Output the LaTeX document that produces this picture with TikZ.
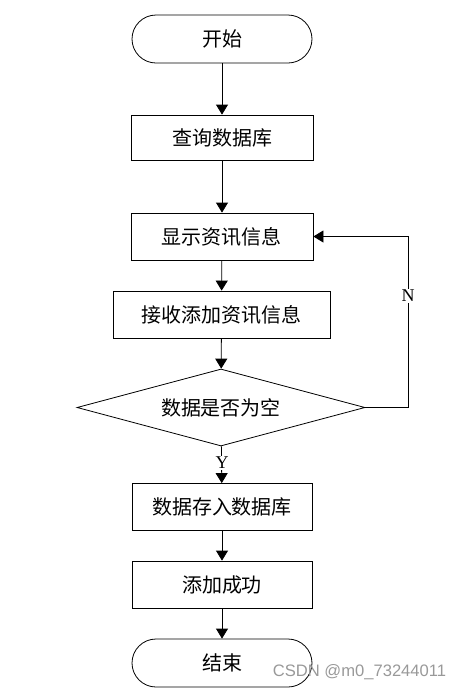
\documentclass[tikz,border=0pt]{standalone}
\usepackage{fontspec}
\setmainfont{Liberation Serif}
\newfontfamily\cjk{Noto Sans CJK SC}
\newfontfamily\wmfont{Liberation Sans}
\usetikzlibrary{shapes.geometric,arrows.meta}
\begin{document}
\begin{tikzpicture}[x=0.5pt,y=-0.5pt,
	term/.style={draw,rounded corners=12pt,minimum width=90pt,minimum height=24pt,font=\cjk\fontsize{10pt}{12pt}\selectfont},
	proc/.style={draw,minimum width=90pt,minimum height=23.5pt,font=\cjk\fontsize{10pt}{12pt}\selectfont},
	decide/.style={draw,diamond,aspect=3.74,inner sep=0pt,minimum width=144pt,minimum height=38.5pt,font=\cjk\fontsize{10pt}{12pt}\selectfont},
	arr/.style={-{Triangle[length=5pt,width=6pt]}},
	yn/.style={fill=white,inner sep=0.5pt,font=\fontsize{9pt}{10pt}\selectfont}]
	\useasboundingbox (0,0) rectangle (462,692);
	\node[term] (start) at (222,39) {开始};
	\node[proc,minimum width=91pt,minimum height=22.5pt] (query) at (222,137.5) {查询数据库};
	\node[proc,minimum width=91pt] (show) at (222,236.5) {显示资讯信息};
	\node[proc,minimum width=108.5pt] (recv) at (221.5,314.5) {接收添加资讯信息};
	\node[decide] (check) at (221,407.5) {数据是否为空};
	\node[proc] (save) at (222,507) {数据存入数据库};
	\node[proc] (done) at (222,584.5) {添加成功};
	\node[term] (stop) at (222,663) {结束};
	\draw[arr] (start) -- (query);
	\draw[arr] (query) -- (show);
	\draw[arr] (show) -- (recv);
	\draw[arr] (recv) -- (check);
	\draw[arr] (check) -- (save);
	\node[yn] (yes) at (222,463) {Y};
	\draw[arr] (save) -- (done);
	\draw[arr] (done) -- (stop);
	\coordinate (turn) at (408,407.5);
	\draw[arr] (check.east) -- (turn) |- (show.east);
	\node[yn] (no) at (408,296) {N};
	\node[font=\wmfont\fontsize{8.3pt}{10pt}\selectfont,text=black!40] (mark) at (359.5,672) {CSDN @m0\_73244011};
\end{tikzpicture}
\end{document}
